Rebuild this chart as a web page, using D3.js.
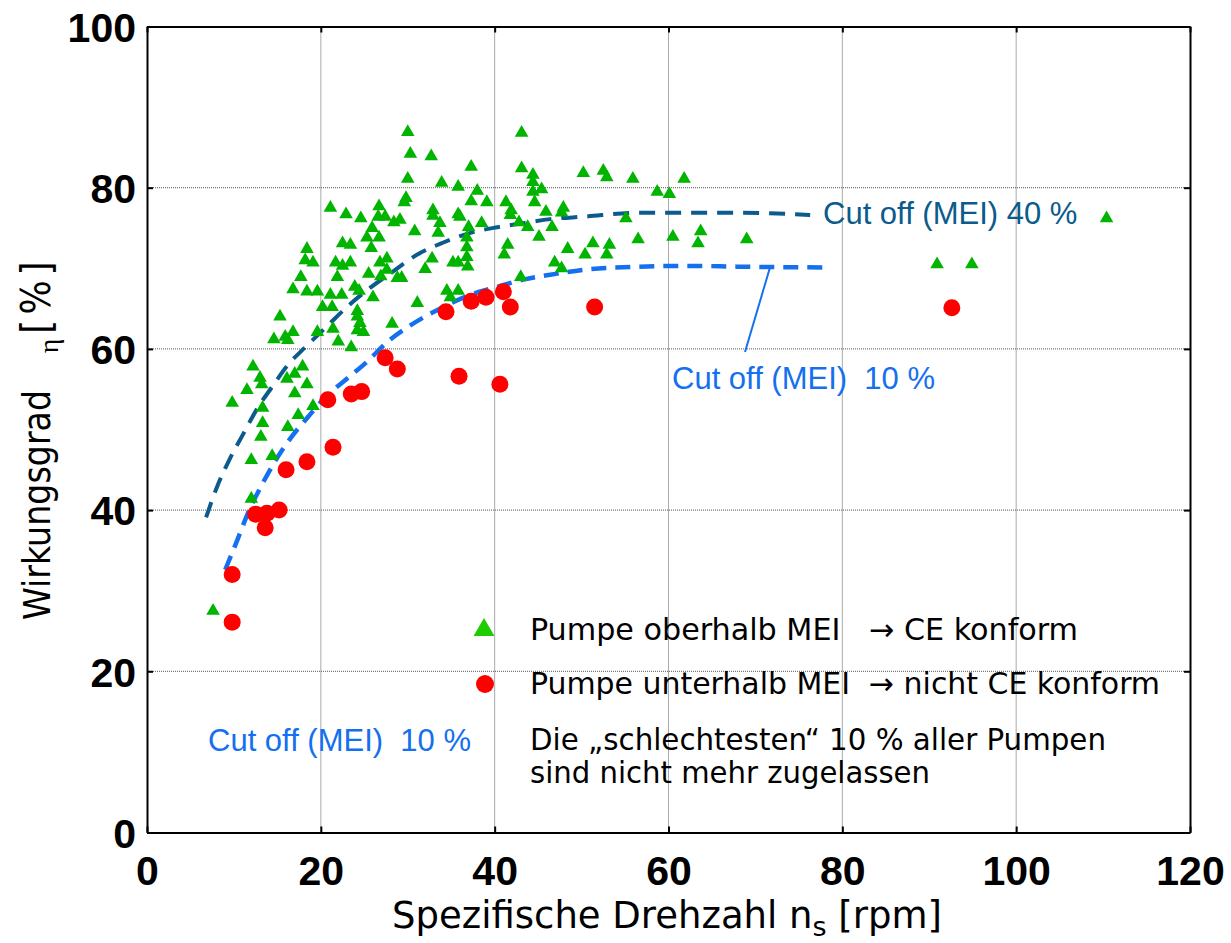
<!DOCTYPE html>
<html>
<head>
<meta charset="utf-8">
<script src="https://cdn.jsdelivr.net/npm/d3@7"></script>
<style>
  body { margin: 0; background: #fff; }
  svg { display: block; }
</style>
</head>
<body>
<div id="chart"></div>
<script>
// axis ticks
const xTicks = [0, 20, 40, 60, 80, 100, 120];
const yTicks = [0, 20, 40, 60, 80, 100];

// pumps above the MEI cut off (green triangles), [ns, eta]
const aboveMEI = [
  [7.6,27.5],[12.0,41.4],[9.8,53.3],[12.0,46.2],[14.4,46.7],[13.1,49.1],[13.3,50.8],[13.3,52.7],[17.4,51.8],[16.2,50.3],[19.1,52.9],
  [11.5,54.9],[12.2,57.8],[13.0,56.4],[13.2,55.6],[16.1,56.3],[17.0,56.9],[17.9,57.8],[18.4,55.6],[17.0,54.5],
  [14.6,61.2],[15.9,61.5],[16.8,62.1],[16.2,61.1],[15.3,64.0],[19.6,62.1],[16.8,67.4],[18.4,67.1],[19.6,67.1],[17.7,68.9],
  [18.4,72.4],[18.2,71.0],[19.1,70.7],[20.2,65.2],[21.3,65.2],[21.1,66.7],[22.4,66.7],[21.4,62.5],[22.0,60.9],[23.5,60.2],
  [24.2,62.3],[24.9,62.1],[24.5,63.2],[24.2,64.7],[24.2,64.0],[23.9,67.7],[24.4,67.2],[26.0,66.4],[28.2,63.1],
  [22.5,73.1],[23.4,72.9],[21.7,70.7],[22.5,70.3],[23.4,70.7],[21.9,68.9],[25.8,72.5],[25.3,73.8],[26.7,73.8],[25.9,75.0],
  [26.8,70.7],[27.6,71.2],[27.6,69.8],[25.5,69.3],[26.9,69.0],[28.8,68.8],[29.3,68.8],
  [21.1,77.5],[22.9,76.7],[24.6,76.2],[26.7,77.7],[26.6,76.4],[27.4,76.4],[28.4,75.7],[29.1,76.0],[31.1,65.7],
  [30.0,86.9],[30.3,84.2],[32.7,83.9],[30.0,81.1],[37.3,82.6],[33.9,80.6],[35.8,80.1],[38.0,79.6],[37.3,78.3],[39.1,78.2],
  [29.8,78.7],[29.6,78.2],[32.9,77.2],[32.9,76.5],[35.8,76.7],[36.0,76.4],[33.7,75.6],[33.5,74.4],[30.8,74.6],
  [37.0,75.1],[38.5,75.6],[36.8,73.8],[36.8,72.6],[36.8,71.4],[36.9,70.2],[35.2,70.7],[35.8,70.7],[32.8,71.2],[32.0,69.9],
  [34.5,67.2],[35.8,67.2],[34.9,66.4],
  [43.1,86.8],[43.1,82.4],[44.4,81.6],[44.4,80.7],[45.4,79.8],[44.4,79.5],[44.6,78.2],[41.3,78.2],[41.9,77.2],[41.8,76.6],
  [45.9,77.0],[47.9,77.5],[47.7,76.9],[42.8,75.7],[43.8,75.1],[46.6,75.1],[45.1,73.9],
  [50.2,81.8],[52.5,82.1],[52.9,81.3],[55.9,81.1],[58.7,79.5],[60.1,79.2],[61.8,81.1],[55.1,76.2],[56.5,73.6],[60.5,73.9],
  [63.7,74.6],[63.4,73.1],[69.0,73.6],[48.4,72.4],[51.3,73.1],[53.2,72.9],[50.4,71.7],[52.9,71.7],[46.9,70.7],[47.7,70.0],
  [41.5,72.9],[41.1,71.7],[43.0,68.9],
  [110.4,76.2],[90.9,70.5],[94.9,70.5]
];

// pumps below the MEI cut off (red dots)
const belowMEI = [
  [9.8,32.0],[9.8,26.1],[12.5,39.5],[13.8,39.6],[15.2,40.0],[13.6,37.8],[16.0,45.0],[18.4,46.0],[21.4,47.8],
  [20.8,53.7],[23.5,54.4],[24.7,54.7],[27.4,58.9],[28.8,57.5],[34.4,64.6],[37.3,65.9],[39.0,66.4],[41.0,67.1],
  [41.8,65.2],[35.9,56.6],[40.6,55.6],[51.5,65.2],[92.6,65.1]
];

// MEI cut off curves
const cutoff40 = [
  [6.8,39.1],[8.1,43.0],[9.5,46.3],[11.0,49.3],[12.8,52.8],[14.4,55.3],[16.2,58.0],[18.2,60.2],[20.8,62.9],
  [23.1,65.3],[25.7,67.6],[28.3,69.6],[31.1,71.7],[34.1,73.2],[37.2,74.4],[40.3,75.1],[43.3,75.6],[46.4,76.1],
  [50.2,76.4],[56.7,76.9],[62.5,76.9],[68.2,76.9],[76.3,76.6]
];
const cutoff10 = [
  [9.0,32.6],[10.4,36.3],[11.6,39.6],[13.2,43.1],[14.7,46.0],[16.5,48.9],[18.4,51.4],[20.7,54.2],[23.0,56.3],
  [25.3,58.4],[27.7,60.9],[30.0,62.7],[34.1,65.2],[37.2,66.7],[40.3,67.7],[43.3,68.6],[46.4,69.2],[51.0,69.9],
  [56.7,70.2],[62.5,70.3],[68.2,70.2],[78.6,70.1]
];

// legend and note texts
const legendLabels = [
  "Pumpe oberhalb MEI   \u2192 CE konform",
  "Pumpe unterhalb MEI  \u2192 nicht CE konform",
  "Die \u201Eschlechtesten\u201C 10 % aller Pumpen",
  "sind nicht mehr zugelassen"
];

const width = 1231, height = 943;
const margin = {top: 26.5, right: 41, bottom: 110.5, left: 147};
const sansFont = "'DejaVu Sans Condensed', 'DejaVu Sans', sans-serif";
const arialFont = "'Liberation Sans', Arial, sans-serif";
const darkBlue = "#0b5b8c", lightBlue = "#1570ef";

const x = d3.scaleLinear().domain([0, 120]).range([margin.left, width - margin.right]);
const y = d3.scaleLinear().domain([0, 100]).range([height - margin.bottom, margin.top]);

const svg = d3.select("#chart").append("svg")
  .attr("width", width)
  .attr("height", height);

// dotted grid
const grid = svg.append("g")
  .attr("stroke", "#555")
  .attr("stroke-width", 1)
  .attr("stroke-dasharray", "1,1");
grid.selectAll("line.gx")
  .data(xTicks.slice(1, -1))
  .join("line")
  .attr("class", "gx")
  .attr("x1", d => x(d)).attr("x2", d => x(d))
  .attr("y1", y(100)).attr("y2", y(0));
grid.selectAll("line.gy")
  .data(yTicks.slice(1, -1))
  .join("line")
  .attr("class", "gy")
  .attr("x1", x(0)).attr("x2", x(120))
  .attr("y1", d => y(d)).attr("y2", d => y(d));

// axes with inward ticks on all four sides
const axisStyle = g => g
  .call(g => g.select(".domain").attr("stroke", "#000").attr("stroke-width", 2))
  .call(g => g.selectAll(".tick line").attr("stroke", "#000").attr("stroke-width", 2));

svg.append("g")
  .attr("transform", `translate(0,${y(0)})`)
  .call(d3.axisBottom(x).tickValues(xTicks).tickSize(-6).tickSizeOuter(0).tickPadding(23))
  .call(axisStyle)
  .call(g => g.selectAll("text")
    .attr("font-family", arialFont).attr("font-weight", "bold")
    .attr("font-size", 41).attr("fill", "#000").attr("dy", "0.71em"));

svg.append("g")
  .attr("transform", `translate(${x(0)},0)`)
  .call(d3.axisLeft(y).tickValues(yTicks).tickSize(-6).tickSizeOuter(0).tickPadding(11))
  .call(axisStyle)
  .call(g => g.selectAll("text")
    .attr("font-family", arialFont).attr("font-weight", "bold")
    .attr("font-size", 41).attr("fill", "#000").attr("dy", "0.36em"));

svg.append("g")
  .attr("transform", `translate(0,${y(100)})`)
  .call(d3.axisTop(x).tickValues(xTicks).tickSize(-6).tickSizeOuter(0).tickFormat(""))
  .call(axisStyle);

svg.append("g")
  .attr("transform", `translate(${x(120)},0)`)
  .call(d3.axisRight(y).tickValues(yTicks).tickSize(-6).tickSizeOuter(0).tickFormat(""))
  .call(axisStyle);

// cut off curves
const line = d3.line()
  .x(d => x(d[0]))
  .y(d => y(d[1]))
  .curve(d3.curveMonotoneX);

svg.append("path")
  .datum(cutoff40)
  .attr("d", line)
  .attr("fill", "none")
  .attr("stroke", darkBlue)
  .attr("stroke-width", 4)
  .attr("stroke-dasharray", "16,10");

svg.append("path")
  .datum(cutoff10)
  .attr("d", line)
  .attr("fill", "none")
  .attr("stroke", lightBlue)
  .attr("stroke-width", 4.5)
  .attr("stroke-dasharray", "15,9");

// pumps
svg.append("g")
  .attr("fill", "#00b400")
  .selectAll("path")
  .data(aboveMEI)
  .join("path")
  .attr("transform", d => `translate(${x(d[0])},${y(d[1])})`)
  .attr("d", d3.symbol(d3.symbolTriangle, 80));

svg.append("g")
  .attr("fill", "#ff0000")
  .selectAll("circle")
  .data(belowMEI)
  .join("circle")
  .attr("cx", d => x(d[0]))
  .attr("cy", d => y(d[1]))
  .attr("r", 8.5);

// curve labels
svg.append("text")
  .attr("x", 823).attr("y", 224)
  .attr("font-family", arialFont).attr("font-size", 31)
  .attr("fill", darkBlue)
  .text("Cut off (MEI) 40 %");

svg.append("text")
  .attr("x", 672).attr("y", 389)
  .attr("font-family", arialFont).attr("font-size", 31)
  .attr("fill", lightBlue)
  .style("white-space", "pre")
  .text("Cut off (MEI)  10 %");

svg.append("line")
  .attr("x1", x(71.7)).attr("y1", y(70.2))
  .attr("x2", 745).attr("y2", 352)
  .attr("stroke", lightBlue).attr("stroke-width", 2);

svg.append("text")
  .attr("x", 208).attr("y", 751)
  .attr("font-family", arialFont).attr("font-size", 31)
  .attr("fill", lightBlue)
  .style("white-space", "pre")
  .text("Cut off (MEI)  10 %");

// legend
svg.append("path")
  .attr("transform", "translate(484,630)")
  .attr("d", d3.symbol(d3.symbolTriangle, 190))
  .attr("fill", "#1fcc00");
svg.append("circle")
  .attr("cx", 485).attr("cy", 684).attr("r", 9)
  .attr("fill", "#ff0000");

const legendY = [640, 694, 750, 783];
const legendWidth = [548, 630, 576, 400];
svg.append("g")
  .selectAll("text")
  .data(legendLabels)
  .join("text")
  .attr("x", 530)
  .attr("y", (d, i) => legendY[i])
  .attr("textLength", (d, i) => legendWidth[i])
  .attr("lengthAdjust", "spacingAndGlyphs")
  .attr("font-family", sansFont)
  .attr("font-size", 30)
  .attr("fill", "#000")
  .style("white-space", "pre")
  .text(d => d);

// axis titles
const xTitle = svg.append("text")
  .attr("x", 667).attr("y", 928)
  .attr("text-anchor", "middle")
  .attr("font-family", "'DejaVu Sans', sans-serif").attr("font-size", 37)
  .attr("fill", "#000");
xTitle.append("tspan").text("Spezifische Drehzahl n");
xTitle.append("tspan").attr("font-size", 27).attr("dy", 8).text("s");
xTitle.append("tspan").attr("dy", -8).text(" [rpm]");

svg.append("text")
  .attr("transform", "translate(50,505) rotate(-90)")
  .attr("text-anchor", "middle")
  .attr("font-family", sansFont).attr("font-size", 37)
  .text("Wirkungsgrad");

svg.append("text")
  .attr("transform", "translate(58,346) rotate(-90)")
  .attr("text-anchor", "middle")
  .attr("font-family", "'Liberation Serif', 'DejaVu Serif', serif").attr("font-size", 28)
  .text("\u03B7");

svg.append("text")
  .attr("transform", "translate(50,295) rotate(-90)")
  .attr("text-anchor", "middle")
  .attr("font-family", sansFont).attr("font-size", 40)
  .attr("letter-spacing", 5)
  .text("[%]");
</script>
</body>
</html>
